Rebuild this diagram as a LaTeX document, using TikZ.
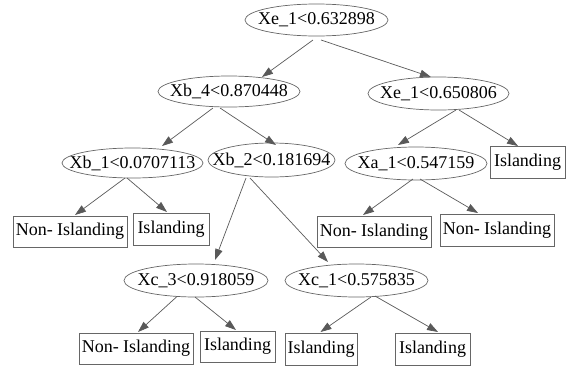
\documentclass[tikz,border=0pt]{standalone}
\usepackage{fontspec}
\setmainfont{Liberation Serif}
\usetikzlibrary{shapes.geometric,arrows.meta}
\tikzset{
  lbl/.style={font=\fontsize{18}{21}\selectfont, text=black},
  enode/.style={lbl, ellipse, draw=black!60, line width=0.7pt, inner sep=0pt},
  bnode/.style={lbl, rectangle, draw=black!60, line width=0.7pt, inner sep=0pt},
  conn/.style={draw=black!65, line width=0.7pt, -{Triangle[length=11pt,width=7.5pt]}}
}
\newcommand{\zb}[1]{\makebox[0pt]{#1}}
\begin{document}
\begin{tikzpicture}[x=1pt,y=-1pt]
\useasboundingbox (0,0) rectangle (566,365);
% decision nodes
\node[enode, minimum width=143pt, minimum height=32pt] (root) at (316.5,20) {\zb{Xe\_1<0.632898}};
\node[enode, minimum width=142pt, minimum height=31pt] (xb4) at (229,91.5) {\zb{Xb\_4<0.870448}};
\node[enode, minimum width=141pt, minimum height=33pt] (xe1b) at (438.5,93.5) {\zb{Xe\_1<0.650806}};
\node[enode, minimum width=141pt, minimum height=30pt] (xb1) at (132.5,163) {\zb{Xb\_1<0.0707113}};
\node[enode, minimum width=127pt, minimum height=34pt] (xb2) at (271.5,160) {\zb{Xb\_2<0.181694}};
\node[enode, minimum width=142pt, minimum height=33pt] (xa1) at (416,163.5) {\zb{Xa\_1<0.547159}};
\node[enode, minimum width=144pt, minimum height=33pt] (xc3) at (196,280.5) {\zb{Xc\_3<0.918059}};
\node[enode, minimum width=143pt, minimum height=33pt] (xc1) at (356.5,280.5) {\zb{Xc\_1<0.575835}};
% leaves
\node[bnode, minimum width=75pt, minimum height=32pt] (islr) at (527.5,162) {\zb{Islanding}};
\node[bnode, minimum width=114pt, minimum height=31pt] (ni1) at (70,231.5) {\zb{Non- Islanding}};
\node[bnode, minimum width=76pt, minimum height=32pt] (isl1) at (171,229.5) {\zb{Islanding}};
\node[bnode, minimum width=114pt, minimum height=31pt] (ni2) at (374,232) {\zb{Non- Islanding}};
\node[bnode, minimum width=114pt, minimum height=32pt] (ni3) at (497,230.5) {\zb{Non- Islanding}};
\node[bnode, minimum width=114pt, minimum height=31pt] (ni4) at (136,348.5) {\zb{Non- Islanding}};
\node[bnode, minimum width=75pt, minimum height=31pt] (isl2) at (237.5,346.5) {\zb{Islanding}};
\node[bnode, minimum width=72pt, minimum height=32pt] (isl3) at (321,349) {\zb{Islanding}};
\node[bnode, minimum width=75pt, minimum height=32pt] (isl4) at (432.5,349) {\zb{Islanding}};
% connectors
\draw[conn] ([shift={(-3.5,20)}]root.center) -- ([shift={(33,-14.5)}]xb4.center);
\draw[conn] ([shift={(4.5,20)}]root.center) -- ([shift={(-7.5,-16.5)}]xe1b.center);
\draw[conn] ([shift={(-16,16.5)}]xb4.center) -- ([shift={(29.5,-17)}]xb1.center);
\draw[conn] ([shift={(-9,16.5)}]xb4.center) -- ([shift={(4.5,-15)}]xb2.center);
\draw[conn] ([shift={(17.5,16.5)}]xe1b.center) -- ([shift={(-18,-18.5)}]xa1.center);
\draw[conn] ([shift={(20.5,16.5)}]xe1b.center) -- ([shift={(-9.5,-16)}]islr.center);
\draw[conn] ([shift={(-7.5,15)}]xb1.center) -- ([shift={(5,-16.5)}]ni1.center);
\draw[conn] ([shift={(-5.5,15)}]xb1.center) -- ([shift={(-4,-17.5)}]isl1.center);
\draw[conn] ([shift={(-25.5,18)}]xb2.center) -- ([shift={(19,-20.5)}]xc3.center);
\draw[conn] ([shift={(-21.5,18)}]xb2.center) -- ([shift={(-28.5,-18.5)}]xc1.center);
\draw[conn] ([shift={(-3,15.5)}]xa1.center) -- ([shift={(-11,-17)}]ni2.center);
\draw[conn] ([shift={(4,15.5)}]xa1.center) -- ([shift={(-19,-17.5)}]ni3.center);
\draw[conn] ([shift={(-19,16)}]xc3.center) -- ([shift={(2,-16.5)}]ni4.center);
\draw[conn] ([shift={(-1,16.5)}]xc3.center) -- ([shift={(-1.5,-16.5)}]isl2.center);
\draw[conn] ([shift={(14.5,16.5)}]xc1.center) -- ([shift={(-0.5,-17)}]isl3.center);
\draw[conn] ([shift={(18.5,15.5)}]xc1.center) -- ([shift={(5.5,-17)}]isl4.center);
\end{tikzpicture}
\end{document}
